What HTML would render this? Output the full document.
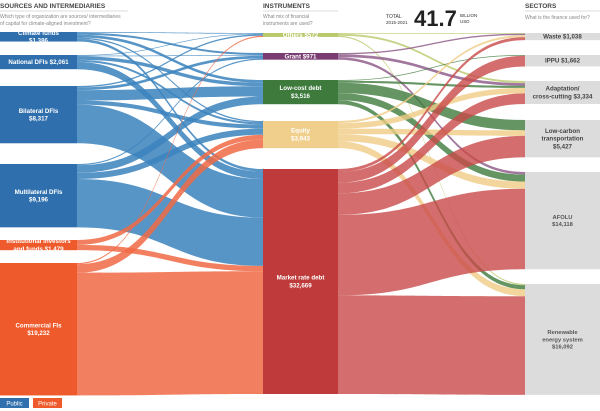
<!DOCTYPE html>
<html><head><meta charset="utf-8">
<style>
body{margin:0;width:600px;height:411px;overflow:hidden;background:#fff;font-family:"Liberation Sans",sans-serif;}
svg{display:block}
</style></head>
<body>
<svg id="chart" width="600" height="411" viewBox="0 0 600 411" xmlns="http://www.w3.org/2000/svg">
<g>
<text x="0" y="8" font-size="6.5" font-weight="bold" fill="#444">SOURCES AND INTERMEDIARIES</text>
<line x1="0" y1="11" x2="128" y2="11" stroke="#bbb" stroke-width="0.6"/>
<text x="0" y="18" font-size="5" fill="#888">Which type of organization are sources/ intermediaries</text>
<text x="0" y="25" font-size="5" fill="#888">of capital for climate-aligned investment?</text>
<text x="263" y="8" font-size="6.5" font-weight="bold" fill="#444">INSTRUMENTS</text>
<line x1="263" y1="11" x2="338" y2="11" stroke="#bbb" stroke-width="0.6"/>
<text x="263" y="18" font-size="5" fill="#888">What mix of financial</text>
<text x="263" y="25" font-size="5" fill="#888">instruments are used?</text>
<text x="386" y="18" font-size="5" fill="#333">TOTAL</text>
<text x="386" y="24" font-size="4.5" fill="#333">2015-2021</text>
<text x="414" y="26" font-size="22" font-weight="bold" fill="#222">41.7</text>
<text x="460" y="17" font-size="4.5" fill="#333">BILLION</text>
<text x="460" y="23" font-size="4.5" fill="#333">USD</text>
<text x="525" y="8" font-size="6.5" font-weight="bold" fill="#444">SECTORS</text>
<line x1="525" y1="11" x2="600" y2="11" stroke="#bbb" stroke-width="0.6"/>
<text x="525" y="19" font-size="5" fill="#888">What is the finance used for?</text>
</g>
<g id="links"></g>
<g id="nodes"></g>
<g>
<rect x="0" y="398" width="29" height="10" fill="#2f6fad"/>
<text x="14.5" y="405.5" font-size="6" fill="#fff" text-anchor="middle">Public</text>
<rect x="33" y="398" width="29" height="10" fill="#ee5a2c"/>
<text x="47.5" y="405.5" font-size="6" fill="#fff" text-anchor="middle">Private</text>
</g>
</svg>
<script>
// Node data
const sources = ["Climate funds","National DFIs","Bilateral DFIs","Multilateral DFIs","Institutional investors and funds","Commercial FIs"];
const sourceValues = [1386,2061,8317,9196,1479,19232];
const sourceType = ["public","public","public","public","private","private"];
const instruments = ["Others","Grant","Low-cost debt","Equity","Market rate debt"];
const instrumentValues = [572,971,3516,3943,32669];
const sectors = ["Waste","IPPU","Adaptation/ cross-cutting","Low-carbon transportation","AFOLU","Renewable energy system"];
const sectorValues = [1038,1662,3334,5427,14118,16092];
// Flow data: rows = sources, cols = instruments
const flowSrcInst = [
 [100,300,400,200,386],
 [100,100,500,300,1061],
 [200,400,1500,600,5617],
 [0,171,1116,900,7009],
 [0,0,0,700,779],
 [172,0,0,1243,17817]
];
// rows = instruments, cols = sectors
const flowInstSec = [
 [100,0,300,0,0,172],
 [200,0,400,0,371,0],
 [0,100,300,1500,1016,600],
 [300,0,800,800,1043,1000],
 [438,1562,1534,3127,11688,14320]
];

// layout
const K = 225/32669;
const srcTop=[32,55,86,164,240,263], instTop=[33,53,80,121,169], secTop=[33,55,81,120,172,284];
const X0=0,X1=77,X2=263,X3=338,X4=525,X5=600;
const instColors=["#b9c96c","#7a3d72","#3d7a3c","#f0cf8c","#bf3a3a"];
const instLink=["#b9c96c","#8a5585","#3d7a3c","#f0cc85","#c94a4a"];
const srcNode={public:"#2f6fad",private:"#ee5a2c"};
const srcLink={public:"#3b82bd",private:"#f06a44"};
const NS="http://www.w3.org/2000/svg";
const linksG=document.getElementById('links'), nodesG=document.getElementById('nodes');

function band(xa,ya,xb,yb,h,color,op,name){
  const p=document.createElementNS(NS,'path');
  const xm=(xa+xb)/2;
  p.setAttribute('d',`M${xa},${ya}C${xm},${ya} ${xm},${yb} ${xb},${yb}L${xb},${yb+h}C${xm},${yb+h} ${xm},${ya+h} ${xa},${ya+h}Z`);
  p.setAttribute('fill',color);p.setAttribute('fill-opacity',op);
  
  
  linksG.appendChild(p);
}
// source->instrument
const instInOff=instTop.slice();
const srcOff=srcTop.slice();
const instOutOff=instTop.slice();
const secInOff=secTop.slice();
// incoming order at instrument follows source order
for(let i=0;i<sources.length;i++){
  for(let j=0;j<instruments.length;j++){
    const v=flowSrcInst[i][j]; if(!v) continue;
    const h=v*K;
    band(X1,srcOff[i],X2,instInOff[j],h,srcLink[sourceType[i]],0.85,'flow-'+i+'-'+j);
    srcOff[i]+=h; instInOff[j]+=h;
  }
}
for(let i=0;i<instruments.length;i++){
  for(let j=0;j<sectors.length;j++){
    const v=flowInstSec[i][j]; if(!v) continue;
    const h=v*K;
    band(X3,instOutOff[i],X4,secInOff[j],h,instLink[i],0.8,'flow-inst-'+i+'-sec-'+j);
    instOutOff[i]+=h; secInOff[j]+=h;
  }
}
function node(x,y,w,h,fill,name){
  const r=document.createElementNS(NS,'rect');
  r.setAttribute('x',x);r.setAttribute('y',y);r.setAttribute('width',w);r.setAttribute('height',Math.max(h,3));
  r.setAttribute('fill',fill);
  
  
  nodesG.appendChild(r);
}
function label(x,yc,lines,color,name,size){
  const t=document.createElementNS(NS,'text');
  t.setAttribute('x',x);t.setAttribute('text-anchor','middle');t.setAttribute('font-size',size||6.2);
  t.setAttribute('font-weight','bold');t.setAttribute('fill',color);
  const lh=(size||6.2)*1.25, y0=yc-(lines.length-1)*lh/2+2;
  lines.forEach((l,k)=>{const s=document.createElementNS(NS,'tspan');s.setAttribute('x',x);s.setAttribute('y',y0+k*lh);s.textContent=l;t.appendChild(s);});
  
  
  nodesG.appendChild(t);
}
const fmt=v=>'$'+v.toLocaleString('en-US');
const srcLabels=[["Climate funds",fmt(1386)],["National DFIs "+fmt(2061)],["Bilateral DFIs",fmt(8317)],["Multilateral DFIs",fmt(9196)],["Institutional investors","and funds "+fmt(1479)],["Commercial FIs",fmt(19232)]];
for(let i=0;i<sources.length;i++){
  const h=sourceValues[i]*K;
  node(X0,srcTop[i],X1-X0,h,srcNode[sourceType[i]],'source-node-'+i);
  label((X0+X1)/2,srcTop[i]+h/2,srcLabels[i].length?srcLabels[i]:[sources[i]],'#fff','source-label-'+i);
}
const instLabels=[["Others "+fmt(572)],["Grant "+fmt(971)],["Low-cost debt",fmt(3516)],["Equity",fmt(3943)],["Market rate debt",fmt(32669)]];
for(let i=0;i<instruments.length;i++){
  const h=instrumentValues[i]*K;
  node(X2,instTop[i],X3-X2,h,instColors[i],'instrument-node-'+i);
  label((X2+X3)/2,instTop[i]+Math.max(h,3)/2,instLabels[i],'#fff','instrument-label-'+i);
}
const secLabels=[["Waste "+fmt(1038)],["IPPU "+fmt(1662)],["Adaptation/","cross-cutting "+fmt(3334)],["Low-carbon","transportation",fmt(5427)],["AFOLU",fmt(14118)],["Renewable","energy system",fmt(16092)]];
for(let i=0;i<sectors.length;i++){
  const h=sectorValues[i]*K;
  node(X4,secTop[i],X5-X4,h,'#dcdcdc','sector-node-'+i);
  label((X4+X5)/2,secTop[i]+h/2,secLabels[i],i<4?'#444':'#555','sector-label-'+i,i<4?6.2:5.8);
}
</script>
</body></html>
